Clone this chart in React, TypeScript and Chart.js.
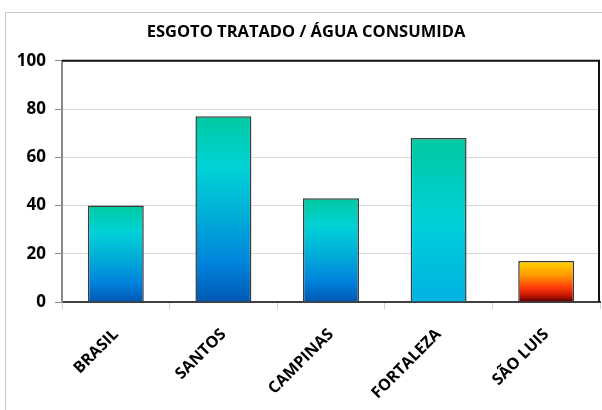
import { useEffect, useRef } from "react";
import { Chart, registerables } from "chart.js";

Chart.register(...registerables);

const categories = ["BRASIL", "SANTOS", "CAMPINAS", "FORTALEZA", "SÃO LUIS"];
const values = [40, 77, 43, 68, 17];
const yTickValues = [0, 20, 40, 60, 80, 100];
const chartTitle = "ESGOTO TRATADO / ÁGUA CONSUMIDA";

const FONT = "'Open Sans', 'DejaVu Sans', sans-serif";

type Stop = [number, string];
const BLUE: Stop[] = [
  [0, "#00c9a0"],
  [0.27, "#00d2d6"],
  [0.55, "#00acd8"],
  [0.8, "#0082dc"],
  [1, "#0058b2"],
];
const LIGHT: Stop[] = [
  [0, "#00c9a0"],
  [0.5, "#00d0d8"],
  [1, "#00b2e2"],
];
const FIRE: Stop[] = [
  [0, "#ffd800"],
  [0.35, "#ff9800"],
  [0.65, "#ff3a0a"],
  [0.85, "#c01400"],
  [1, "#500000"],
];
const barGradients = [BLUE, BLUE, BLUE, LIGHT, FIRE];

const framePlugin = {
  id: "frame",
  beforeDraw(chart: any) {
    const ctx = chart.ctx;
    ctx.save();
    ctx.fillStyle = "#ffffff";
    ctx.fillRect(0, 0, chart.width, chart.height);
    ctx.strokeStyle = "#c8c8c8";
    ctx.lineWidth = 1;
    ctx.beginPath();
    ctx.moveTo(5.5, chart.height);
    ctx.lineTo(5.5, 12.5);
    ctx.lineTo(chart.width, 12.5);
    ctx.stroke();
    ctx.restore();
  },
  afterDraw(chart: any) {
    const { left, top, right, bottom } = chart.chartArea;
    const ctx = chart.ctx;
    ctx.save();
    ctx.strokeStyle = "#111111";
    ctx.lineWidth = 2;
    ctx.beginPath();
    ctx.moveTo(left, top);
    ctx.lineTo(right - 1, top);
    ctx.lineTo(right - 1, bottom);
    ctx.stroke();
    ctx.restore();
  },
};

export default function App() {
  const ref = useRef<HTMLCanvasElement | null>(null);

  useEffect(() => {
    if (!ref.current) return;
    const chart = new Chart(ref.current, {
      type: "bar",
      data: {
        labels: categories,
        datasets: [
          {
            data: values,
            backgroundColor: (context: any) => {
              const chart = context.chart;
              const area = chart.chartArea;
              const stops = barGradients[context.dataIndex] || BLUE;
              if (!area || !chart.scales.y) return stops[0][1];
              const v = values[context.dataIndex];
              const yTop = chart.scales.y.getPixelForValue(v);
              const yBase = chart.scales.y.getPixelForValue(0);
              const g = chart.ctx.createLinearGradient(0, yTop, 0, yBase);
              stops.forEach(([o, c]) => g.addColorStop(o, c));
              return g;
            },
            borderColor: "#3a3a3a",
            borderWidth: 1.5,
            categoryPercentage: 1,
            barPercentage: 0.52,
          },
        ],
      },
      options: {
        responsive: false,
        animation: false,
        devicePixelRatio: 1,
        layout: { padding: { left: 12, right: 2, top: 0, bottom: 0 } },
        plugins: {
          legend: { display: false },
          tooltip: { enabled: false },
          title: {
            display: true,
            text: chartTitle,
            color: "#000000",
            font: { family: FONT, size: 16.5, weight: "bold" },
            padding: { top: 22, bottom: 19 },
          },
        },
        scales: {
          x: {
            grid: {
              display: true,
              drawOnChartArea: false,
              drawTicks: true,
              tickLength: 7,
              color: "#d0d0d0",
              offset: true,
            },
            border: { display: true, color: "#404040", width: 2 },
            ticks: {
              maxRotation: 45,
              minRotation: 45,
              color: "#000000",
              padding: 16,
              font: { family: FONT, size: 16, weight: "bold" },
            },
            afterFit: (scale: any) => {
              scale.height = 108;
            },
          },
          y: {
            min: 0,
            max: 100,
            afterBuildTicks: (scale: any) => {
              scale.ticks = yTickValues.map((v) => ({ value: v }));
            },
            grid: {
              color: "#d9d9d9",
              lineWidth: 1,
              tickLength: 7,
              tickColor: "#8a8a8a",
            },
            border: { display: true, color: "#8a8a8a", width: 2 },
            ticks: {
              color: "#000000",
              padding: 9,
              font: { family: FONT, size: 17, weight: "bold" },
            },
            afterFit: (scale: any) => {
              scale.width = 50;
            },
          },
        },
      },
      plugins: [framePlugin],
    } as any);
    return () => chart.destroy();
  }, []);

  return (
    <div style={{ position: "absolute", left: 0, top: 0, width: 602, height: 410 }}>
      <canvas ref={ref} width={602} height={410} style={{ display: "block" }} />
    </div>
  );
}
